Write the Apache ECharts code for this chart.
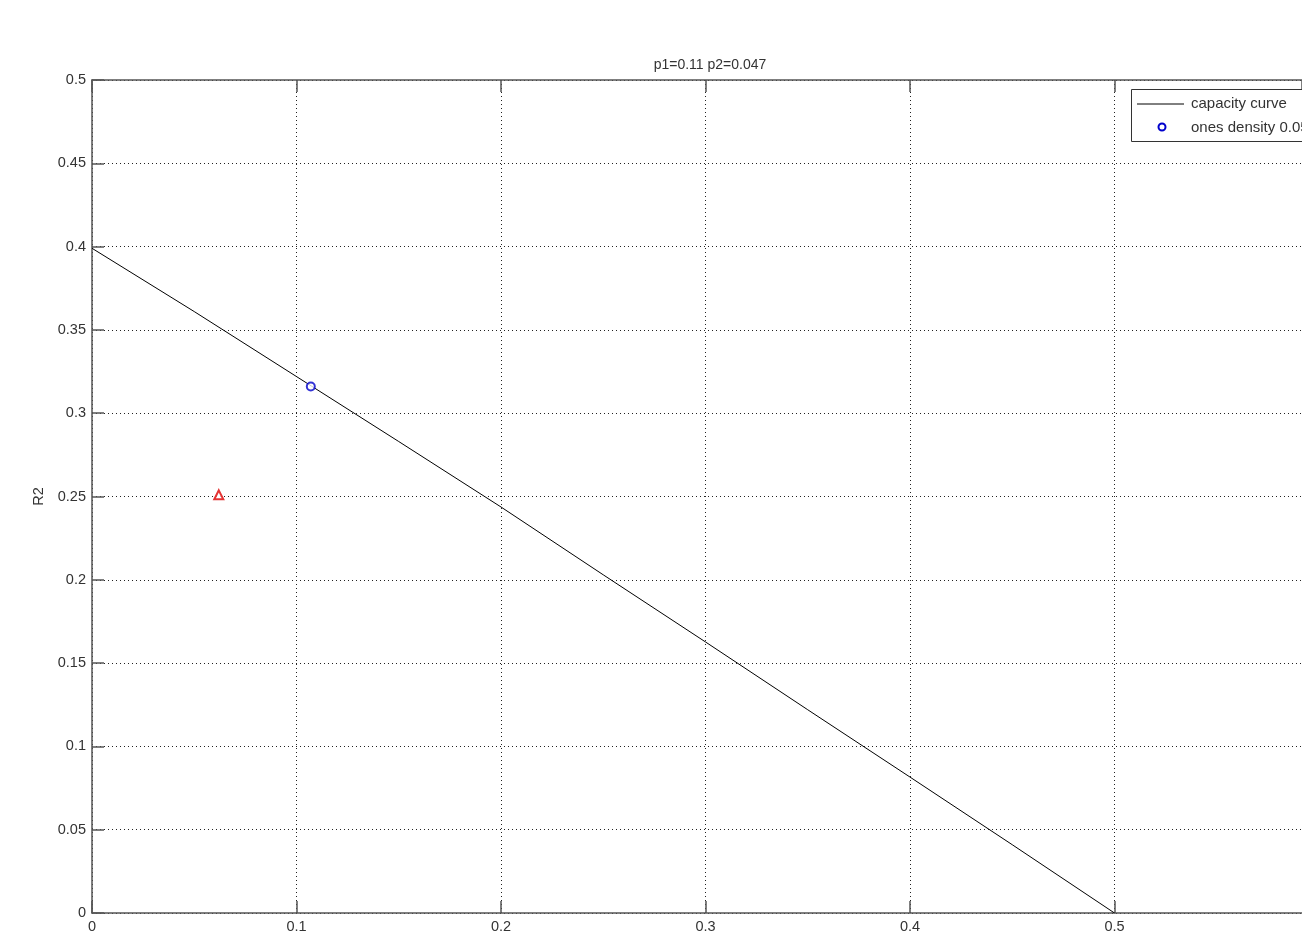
<!DOCTYPE html>
<html>
<head>
<meta charset="utf-8">
<script src="https://cdn.jsdelivr.net/npm/echarts@6/dist/echarts.min.js"></script>
<style>html,body{margin:0;padding:0;background:#fff}#c{width:1302px;height:939px}</style>
</head>
<body>
<div id="c"></div>
<script>
const titleText = 'p1=0.11 p2=0.047';
const capX = [0, 0.05, 0.1, 0.15, 0.2, 0.25, 0.3, 0.35, 0.4, 0.45, 0.5];
const capY = [0.399, 0.361, 0.322, 0.283, 0.2437, 0.203, 0.1627, 0.122, 0.0816, 0.041, 0];
const onesPoint = [[0.107, 0.316]];
const otherPoint = [[0.062, 0.251]];
const legendNames = ['capacity curve', 'ones density 0.05'];
const xVisibleMax = 0.5917;

const chart = echarts.init(document.getElementById('c'), null, {renderer: 'canvas'});
const font = 'Liberation Sans, Arial, sans-serif';
const axisCol = '#555';
const gridLine = {show: true, lineStyle: {type: [1, 3], color: '#222', width: 1}};

chart.setOption({
  backgroundColor: '#fff',
  animation: false,
  title: {text: titleText, left: 705, textAlign: 'center', top: 53,
    textStyle: {fontFamily: font, fontSize: 14, fontWeight: 'normal', color: '#333'}},
  grid: {left: 92, top: 80, bottom: 26, right: 0, containLabel: false},
  xAxis: [{
    type: 'value', min: 0, max: xVisibleMax, interval: 0.1,
    axisLine: {show: true, onZero: false, lineStyle: {color: axisCol, width: 1.5}},
    axisTick: {show: true, inside: true, length: 12, lineStyle: {color: axisCol, width: 1.5}},
    axisLabel: {fontFamily: font, fontSize: 14.5, color: '#333', margin: 6, showMaxLabel: false,
      formatter: v => String(+v.toFixed(2))},
    splitLine: gridLine
  }, {
    type: 'value', position: 'top', min: 0, max: xVisibleMax, interval: 0.1,
    axisLine: {show: true, onZero: false, lineStyle: {color: axisCol, width: 1.5}},
    axisTick: {show: true, inside: true, length: 12, lineStyle: {color: axisCol, width: 1.5}},
    axisLabel: {show: false}, splitLine: {show: false}
  }],
  yAxis: [{
    type: 'value', min: 0, max: 0.5, interval: 0.05,
    name: 'R2', nameLocation: 'middle', nameGap: 44,
    nameTextStyle: {fontFamily: font, fontSize: 14.5, color: '#333'},
    axisLine: {show: true, onZero: false, lineStyle: {color: axisCol, width: 1.5}},
    axisTick: {show: true, inside: true, length: 12, lineStyle: {color: axisCol, width: 1.5}},
    axisLabel: {fontFamily: font, fontSize: 14.5, color: '#333', margin: 6,
      formatter: v => String(+v.toFixed(2))},
    splitLine: gridLine
  }],
  series: [{
    name: legendNames[0], type: 'line', symbol: 'none',
    data: capX.map((x, i) => [x, capY[i]]),
    lineStyle: {color: '#000', width: 1}, z: 3
  }, {
    name: legendNames[1], type: 'scatter', symbol: 'emptyCircle', symbolSize: 8,
    data: onesPoint, itemStyle: {color: '#0000cc', borderColor: '#0000cc', borderWidth: 2}, z: 4
  }, {
    name: 'other', type: 'scatter', symbol: 'emptyTriangle', symbolSize: 9,
    data: otherPoint, itemStyle: {color: '#dd0000', borderColor: '#dd0000', borderWidth: 2}, z: 4
  }],
  graphic: [
    {type: 'rect', left: 1131, top: 89, shape: {width: 200, height: 52},
      style: {fill: '#fff', stroke: '#333', lineWidth: 1}, z: 10},
    {type: 'line', shape: {x1: 1137, y1: 104, x2: 1184, y2: 104},
      style: {stroke: '#000', lineWidth: 1}, z: 11},
    {type: 'circle', shape: {cx: 1162, cy: 127, r: 3.5},
      style: {fill: '#fff', stroke: '#0000cc', lineWidth: 2}, z: 11},
    {type: 'text', left: 1191, top: 96, z: 11,
      style: {text: legendNames[0], font: '15px ' + font, fill: '#333'}},
    {type: 'text', left: 1191, top: 120, z: 11,
      style: {text: legendNames[1], font: '15px ' + font, fill: '#333'}}
  ]
});
</script>
</body>
</html>
